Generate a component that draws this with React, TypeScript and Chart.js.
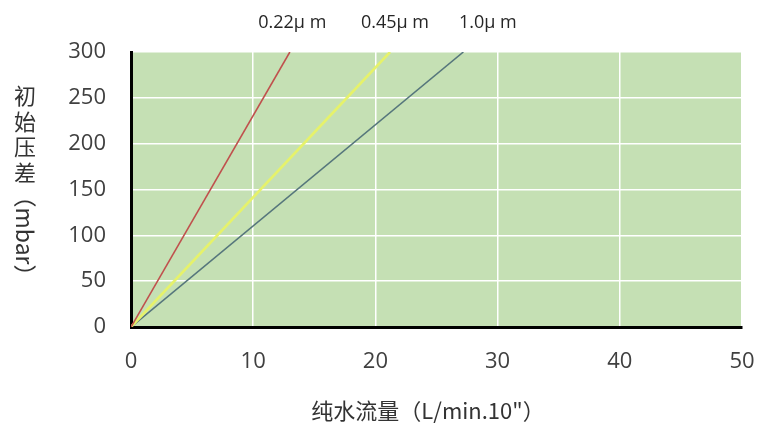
import React, { useEffect, useRef } from "react";
import { Chart, registerables } from "chart.js";

Chart.register(...registerables);

// Data
const seriesNames = ["0.22μ m", "0.45μ m", "1.0μ m"];
const flow022 = [0, 13];
const dp022 = [0, 300];
const flow045 = [0, 21.2];
const dp045 = [0, 300];
const flow10 = [0, 27.2];
const dp10 = [0, 300];
const labelFlow = [13.2, 21.6, 29.2];
const xTicks = [0, 10, 20, 30, 40, 50];
const yTicks = [0, 50, 100, 150, 200, 250, 300];
const yTitleChars = ["初", "始", "压", "差"];
const yTitleUnit = "（mbar）";
const xTitle = "纯水流量（L/min.10\"）";

const colors = ["#c0504d", "#e6f26a", "#56767c"];
const widths = [1.6, 2.6, 1.6];

const FONT = "'Open Sans', 'Noto Sans CJK SC', sans-serif";
const CJK = "'Noto Sans CJK SC', 'Open Sans', sans-serif";

const pts = (xs: number[], ys: number[]) => xs.map((x, i) => ({ x, y: ys[i] }));

const bgPlugin = {
  id: "bgPlugin",
  beforeDraw(chart: any) {
    const { ctx, chartArea } = chart;
    ctx.save();
    ctx.fillStyle = "#c5e0b4";
    ctx.fillRect(chartArea.left, chartArea.top, chartArea.right - chartArea.left, chartArea.bottom - chartArea.top);
    ctx.restore();
  },
};

const textPlugin = {
  id: "textPlugin",
  afterDraw(chart: any) {
    const { ctx } = chart;
    const xs = chart.scales.x;
    ctx.save();
    ctx.fillStyle = "#262626";
    ctx.textBaseline = "middle";
    ctx.textAlign = "center";
    ctx.font = `18px ${FONT}`;
    seriesNames.forEach((n, i) => {
      ctx.fillText(n, xs.getPixelForValue(labelFlow[i]), 23);
    });
    // y title
    ctx.fillStyle = "#333";
    ctx.font = `22px ${CJK}`;
    yTitleChars.forEach((c, i) => {
      ctx.fillText(c, 25, 96 + i * 25.5);
    });
    ctx.save();
    ctx.translate(25, 236);
    ctx.rotate(Math.PI / 2);
    ctx.font = `23px ${CJK}`;
    ctx.fillText(yTitleUnit, 0, 0);
    ctx.restore();
    // x title
    ctx.font = `22px ${CJK}`;
    ctx.fillText(xTitle, 428, 411);
    ctx.restore();
  },
};

export default function App() {
  const ref = useRef<HTMLCanvasElement>(null);
  useEffect(() => {
    if (!ref.current) return;
    const tickFont = { family: FONT, size: 22 };
    const chart = new Chart(ref.current, {
      type: "line",
      data: {
        datasets: [
          { label: seriesNames[0], data: pts(flow022, dp022) },
          { label: seriesNames[1], data: pts(flow045, dp045) },
          { label: seriesNames[2], data: pts(flow10, dp10) },
        ].map((d, i) => ({
          ...d,
          borderColor: colors[i],
          backgroundColor: colors[i],
          borderWidth: widths[i],
          pointRadius: 0,
          fill: false,
          tension: 0,
        })),
      },
      options: {
        responsive: false,
        animation: false,
        layout: { padding: { top: 52, right: 26, left: 0, bottom: 0 } },
        plugins: { legend: { display: false }, tooltip: { enabled: false } },
        scales: {
          x: {
            type: "linear",
            min: xTicks[0],
            max: xTicks[xTicks.length - 1],
            afterBuildTicks: (s: any) => {
              s.ticks = xTicks.map((v) => ({ value: v }));
            },
            ticks: { padding: 22, font: tickFont, color: "#404040", maxRotation: 0 },
            grid: { color: "#ffffff", lineWidth: 1.5, drawTicks: false },
            border: { color: "#000000", width: 3 },
            afterFit: (s: any) => {
              s.height = 118;
              s.paddingLeft = 0;
              s.paddingRight = 0;
            },
          },
          y: {
            type: "linear",
            min: yTicks[0],
            max: yTicks[yTicks.length - 1],
            afterBuildTicks: (s: any) => {
              s.ticks = yTicks.map((v) => ({ value: v }));
            },
            ticks: { padding: 25, font: tickFont, color: "#404040" },
            grid: { color: "#ffffff", lineWidth: 1.5, drawTicks: false },
            border: { color: "#000000", width: 3 },
            afterFit: (s: any) => {
              s.width = 131;
              s.paddingTop = 0;
              s.paddingBottom = 0;
            },
          },
        },
      },
      plugins: [bgPlugin, textPlugin],
    } as any);
    return () => chart.destroy();
  }, []);
  return (
    <div style={{ position: "fixed", left: 0, top: 0, width: 768, height: 445, background: "#fff" }}>
      <canvas ref={ref} width={768} height={445} />
    </div>
  );
}
